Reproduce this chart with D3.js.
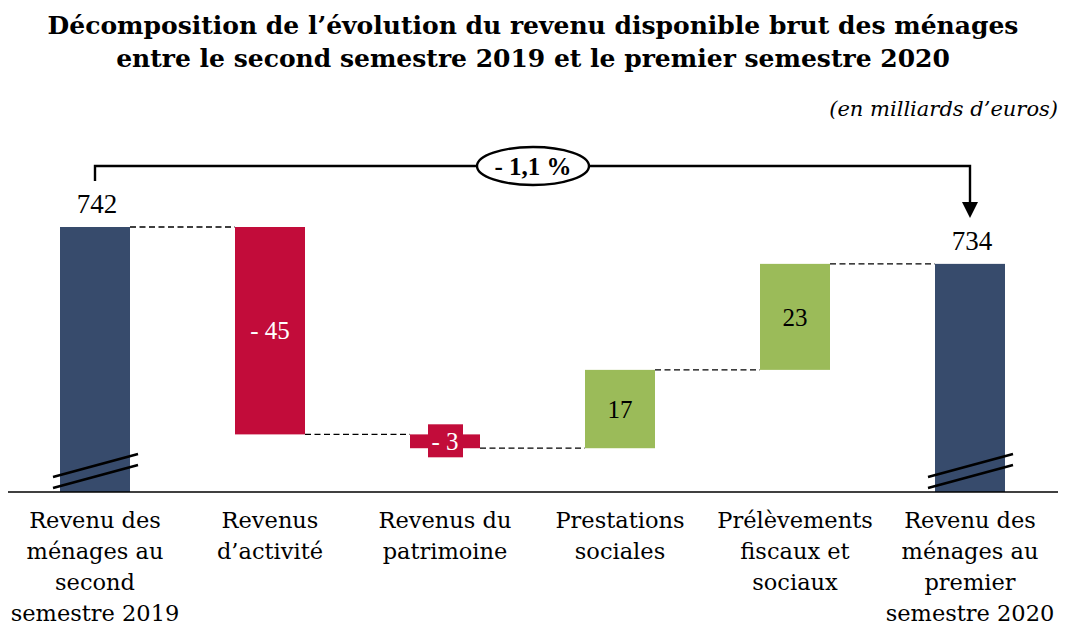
<!DOCTYPE html>
<meta charset="utf-8">
<style>
body { margin: 0; background: #fff; }
svg { display: block; }
.cat { font-family: "DejaVu Serif", serif; font-size: 22.5px; fill: #000; }
.num { font-family: "Liberation Serif", serif; }
</style>
<body>
<script src="https://cdn.jsdelivr.net/npm/d3@7"></script>
<script>
// the data
var categories = [
  ["Revenu des", "ménages au", "second", "semestre 2019"],
  ["Revenus", "d\u2019activité"],
  ["Revenus du", "patrimoine"],
  ["Prestations", "sociales"],
  ["Prélèvements", "fiscaux et", "sociaux"],
  ["Revenu des", "ménages au", "premier", "semestre 2020"]
];
var values = [742, -45, -3, 17, 23, 734];
var kinds = ["total", "delta", "delta", "delta", "delta", "total"];
var change = "- 1,1 %";

var width = 1067, height = 628;
var baseY = 492;
var barW = 70;
var colors = {total: "#374b6c", neg: "#c20c3a", pos: "#9bbb59"};

var svg = d3.select("body").append("svg")
    .attr("width", width)
    .attr("height", height);

// titles
svg.append("text")
    .attr("x", 533).attr("y", 34)
    .attr("text-anchor", "middle")
    .style("font-family", "DejaVu Serif, serif")
    .style("font-weight", "bold")
    .style("font-size", "25px")
    .text("Décomposition de l\u2019évolution du revenu disponible brut des ménages");
svg.append("text")
    .attr("x", 533).attr("y", 67)
    .attr("text-anchor", "middle")
    .style("font-family", "DejaVu Serif, serif")
    .style("font-weight", "bold")
    .style("font-size", "25px")
    .text("entre le second semestre 2019 et le premier semestre 2020");
svg.append("text")
    .attr("x", 1058).attr("y", 116)
    .attr("text-anchor", "end")
    .style("font-family", "DejaVu Serif, serif")
    .style("font-style", "italic")
    .style("font-size", "21px")
    .text("(en milliards d\u2019euros)");

// scales
var x = d3.scalePoint()
    .domain(d3.range(values.length))
    .range([95, 970]);
var y = d3.scaleLinear()
    .domain([684.5, 742])
    .range([baseY, 227]);

// compute the waterfall steps
var run = 0;
var steps = values.map(function(v, i) {
  var s;
  if (kinds[i] == "total") {
    s = {i: i, v: v, y0: y.domain()[0], y1: v, end: v, color: colors.total};
    run = v;
  } else {
    var start = run;
    run = run + v;
    s = {i: i, v: v, y0: start, y1: run, end: run, color: v < 0 ? colors.neg : colors.pos};
  }
  return s;
});

// dashed connectors
svg.selectAll(".link")
    .data(steps.slice(0, -1))
  .enter().append("line")
    .attr("x1", function(d) { return x(d.i) + barW / 2; })
    .attr("x2", function(d) { return x(d.i + 1) - barW / 2; })
    .attr("y1", function(d) { return y(d.end); })
    .attr("y2", function(d) { return y(d.end); })
    .attr("stroke", "#000")
    .attr("stroke-width", 1.3)
    .attr("stroke-dasharray", "6,3.5");

// bars
svg.selectAll(".bar")
    .data(steps)
  .enter().append("rect")
    .attr("x", function(d) { return x(d.i) - barW / 2; })
    .attr("width", barW)
    .attr("y", function(d) { return y(Math.max(d.y0, d.y1)); })
    .attr("height", function(d) { return Math.abs(y(d.y0) - y(d.y1)); })
    .attr("fill", function(d) { return d.color; });

// axis line
svg.append("line")
    .attr("x1", 8).attr("x2", 1058)
    .attr("y1", baseY).attr("y2", baseY)
    .attr("stroke", "#000").attr("stroke-width", 1.3);

// break marks on the totals
steps.filter(function(d) { return kinds[d.i] == "total"; }).forEach(function(d) {
  [0, 11].forEach(function(off) {
    svg.append("line")
        .attr("x1", x(d.i) - 42).attr("y1", 477 + off)
        .attr("x2", x(d.i) + 43).attr("y2", 454 + off)
        .attr("stroke", "#000").attr("stroke-width", 2.6);
  });
});

function fmt(v) { return v < 0 ? "- " + Math.abs(v) : String(v); }

// labels on the totals
svg.selectAll(".tot")
    .data(steps.filter(function(d) { return kinds[d.i] == "total"; }))
  .enter().append("text")
    .attr("class", "num")
    .attr("x", function(d) { return x(d.i) + 2; })
    .attr("y", function(d) { return y(d.v) - 14; })
    .attr("text-anchor", "middle")
    .style("font-size", "27px")
    .text(function(d) { return d.v; });

// labels in the deltas
var deltas = steps.filter(function(d) { return kinds[d.i] == "delta"; });
deltas.forEach(function(d) {
  var cy = (y(d.y0) + y(d.y1)) / 2;
  var small = Math.abs(y(d.y0) - y(d.y1)) < 30;
  if (small) {
    svg.append("rect")
        .attr("x", x(d.i) - 17).attr("width", 35)
        .attr("y", cy - 17).attr("height", 33)
        .attr("fill", d.color);
  }
  svg.append("text")
      .attr("class", "num")
      .attr("x", x(d.i))
      .attr("y", cy)
      .attr("dy", "0.35em")
      .attr("text-anchor", "middle")
      .style("font-size", "25px")
      .attr("fill", d.v < 0 ? "#fff" : "#000")
      .text(fmt(d.v));
});

// category labels
categories.forEach(function(lines, i) {
  var t = svg.append("text")
      .attr("class", "cat")
      .attr("x", x(i))
      .attr("y", 528)
      .attr("text-anchor", "middle");
  lines.forEach(function(l, j) {
    t.append("tspan")
        .attr("x", x(i))
        .attr("y", 528 + j * 31)
        .text(l);
  });
});

// bracket with the overall change
var by = 166;
svg.append("path")
    .attr("d", "M" + x(0) + "," + 181 + "V" + by + "H" + x(5) + "V" + 203)
    .attr("fill", "none")
    .attr("stroke", "#000").attr("stroke-width", 2.4);
svg.append("path")
    .attr("d", "M" + (x(5) - 8) + ",202L" + (x(5) + 8) + ",202L" + x(5) + ",218Z")
    .attr("fill", "#000");
svg.append("ellipse")
    .attr("cx", 533).attr("cy", by)
    .attr("rx", 56).attr("ry", 19)
    .attr("fill", "#fff")
    .attr("stroke", "#000").attr("stroke-width", 2.4);
svg.append("text")
    .attr("x", 533).attr("y", by)
    .attr("dy", "0.35em")
    .attr("text-anchor", "middle")
    .style("font-family", "Liberation Serif, serif")
    .style("font-weight", "bold")
    .style("font-size", "25px")
    .text(change);
</script>
</body>
